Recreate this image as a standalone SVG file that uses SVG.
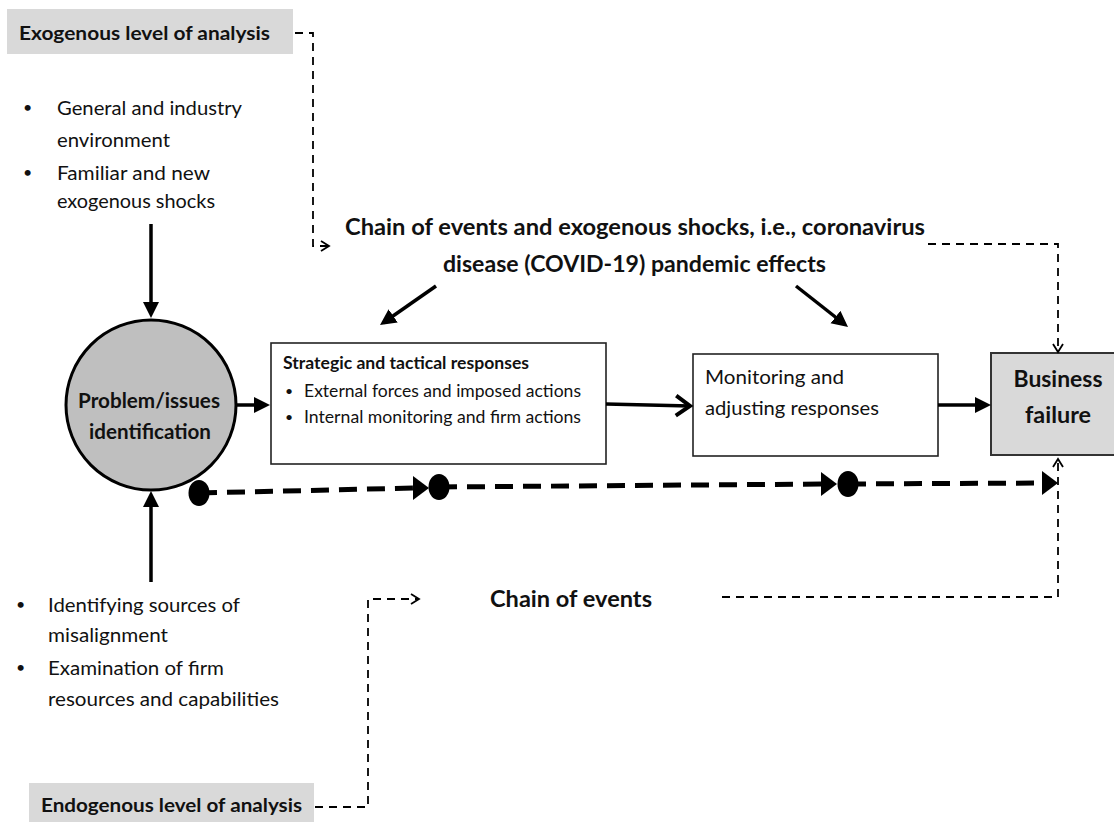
<svg xmlns="http://www.w3.org/2000/svg" width="1114" height="822" viewBox="0 0 1114 822">
<style>
text{font-family:Lato,"Open Sans","Liberation Sans",sans-serif;fill:#111;}
.b{font-weight:bold;}
.lbl{fill:#d9d9d9;stroke:none;}
.box{fill:#fff;stroke:#222;stroke-width:1.6;}
.thick{fill:none;stroke:#000;stroke-width:3.5;}
.thin{fill:none;stroke:#000;stroke-width:1.8;stroke-dasharray:8 6;}
.chain{fill:none;stroke:#000;stroke-width:5;stroke-dasharray:18 10;}
</style>
<defs>
<marker id="tri" markerUnits="userSpaceOnUse" markerWidth="18" markerHeight="18" refX="12" refY="8" orient="auto">
<path d="M0,0 L16,8 L0,16 z" fill="#000"/>
</marker>
<marker id="open" markerUnits="userSpaceOnUse" markerWidth="20" markerHeight="26" refX="16" refY="12" orient="auto">
<path d="M2,2 L16,12 L2,22" fill="none" stroke="#000" stroke-width="4"/>
</marker>
<marker id="chev" markerUnits="userSpaceOnUse" markerWidth="12" markerHeight="14" refX="9" refY="6" orient="auto">
<path d="M1,1 L9,6 L1,11" fill="none" stroke="#000" stroke-width="1.8"/>
</marker>
<g id="dot"><ellipse cx="0" cy="0" rx="10.5" ry="13" fill="#000"/></g>
<g id="arr"><path d="M-16,-12 L0,0 L-16,12 z" fill="#000"/></g>
</defs>
<rect width="1114" height="822" fill="#fff"/>

<g id="exogenous-label">
<rect class="lbl" x="7" y="9" width="286" height="45"/>
<text class="b" x="19" y="40" font-size="19.5" textLength="251" lengthAdjust="spacingAndGlyphs">Exogenous  level of analysis</text>
</g>

<g id="exogenous-bullets" font-size="19.5">
<text x="23" y="113" font-size="16">•</text>
<text x="57" y="115" textLength="185" lengthAdjust="spacingAndGlyphs">General and industry</text>
<text x="57" y="147" textLength="113" lengthAdjust="spacingAndGlyphs">environment</text>
<text x="23" y="178" font-size="16">•</text>
<text x="57" y="180" textLength="153" lengthAdjust="spacingAndGlyphs">Familiar and new</text>
<text x="57" y="208" textLength="158" lengthAdjust="spacingAndGlyphs">exogenous shocks</text>
</g>

<g id="chain-heading">
<text class="b" x="345" y="235" font-size="23" textLength="580" lengthAdjust="spacingAndGlyphs">Chain of events and exogenous shocks, i.e., coronavirus</text>
<text class="b" x="443" y="272" font-size="23" textLength="383" lengthAdjust="spacingAndGlyphs">disease (COVID-19) pandemic effects</text>
</g>

<g id="problem-identification">
<circle cx="151" cy="405" r="85" fill="#bfbfbf" stroke="#000" stroke-width="3"/>
<text class="b" x="149" y="408" font-size="21.5" text-anchor="middle" textLength="142" lengthAdjust="spacingAndGlyphs">Problem/issues</text>
<text class="b" x="150" y="439" font-size="21.5" text-anchor="middle" textLength="122" lengthAdjust="spacingAndGlyphs">identification</text>
</g>

<g id="strategic-responses">
<rect class="box" x="271" y="343" width="335" height="121"/>
<text class="b" x="283" y="369" font-size="16.5" textLength="246" lengthAdjust="spacingAndGlyphs">Strategic and tactical responses</text>
<text x="285" y="396" font-size="14">•</text>
<text x="304" y="397" font-size="17" textLength="277" lengthAdjust="spacingAndGlyphs">External forces and imposed actions</text>
<text x="285" y="422" font-size="14">•</text>
<text x="304" y="423" font-size="17" textLength="277" lengthAdjust="spacingAndGlyphs">Internal monitoring and firm actions</text>
</g>

<g id="monitoring-responses">
<rect class="box" x="693" y="354" width="245" height="102"/>
<text x="705" y="384" font-size="20" textLength="139" lengthAdjust="spacingAndGlyphs">Monitoring and</text>
<text x="705" y="415" font-size="20" textLength="174" lengthAdjust="spacingAndGlyphs">adjusting responses</text>
</g>

<g id="business-failure">
<rect x="991" y="353" width="124" height="102" fill="#d9d9d9" stroke="#333" stroke-width="2"/>
<text class="b" x="1058" y="387" font-size="23" text-anchor="middle" textLength="89" lengthAdjust="spacingAndGlyphs">Business</text>
<text class="b" x="1058" y="423" font-size="23" text-anchor="middle" textLength="66" lengthAdjust="spacingAndGlyphs">failure</text>
</g>

<g id="endogenous-bullets" font-size="19.5">
<text x="16" y="610" font-size="16">•</text>
<text x="48" y="612" textLength="192" lengthAdjust="spacingAndGlyphs">Identifying sources of</text>
<text x="48" y="642" textLength="120" lengthAdjust="spacingAndGlyphs">misalignment</text>
<text x="16" y="673" font-size="16">•</text>
<text x="48" y="675" textLength="176" lengthAdjust="spacingAndGlyphs">Examination of firm</text>
<text x="48" y="706" textLength="231" lengthAdjust="spacingAndGlyphs">resources and capabilities</text>
</g>

<g id="chain-of-events-label">
<text class="b" x="490" y="607" font-size="23" textLength="162" lengthAdjust="spacingAndGlyphs">Chain of events</text>
</g>

<g id="endogenous-label">
<rect class="lbl" x="29" y="783" width="285" height="40"/>
<text class="b" x="41" y="812" font-size="19.5" textLength="261" lengthAdjust="spacingAndGlyphs">Endogenous level of analysis</text>
</g>

<g id="connectors">
<line class="thick" x1="151" y1="224" x2="151" y2="314" marker-end="url(#tri)"/>
<line class="thick" x1="151" y1="582" x2="151" y2="495" marker-end="url(#tri)"/>
<line class="thick" x1="236" y1="405" x2="266" y2="405" marker-end="url(#tri)"/>
<line class="thick" x1="606" y1="404" x2="690" y2="406" stroke-width="4" marker-end="url(#open)"/>
<line class="thick" x1="938" y1="405" x2="987" y2="405" stroke-width="4" marker-end="url(#tri)"/>
<line class="thick" x1="436" y1="286" x2="383.3" y2="322.7" stroke-width="4" marker-end="url(#tri)"/>
<line class="thick" x1="796" y1="286" x2="844.9" y2="324.5" stroke-width="4" marker-end="url(#tri)"/>

<path class="thin" d="M295,33 H313 V246 H329" marker-end="url(#chev)"/>
<path class="thin" d="M928,244 H1058 V352" marker-end="url(#chev)"/>
<path class="thin" d="M722,597 H1058 V459" marker-end="url(#chev)"/>
<path class="thin" d="M315,807 H368 V599 H419" marker-end="url(#chev)"/>

<line class="chain" x1="199" y1="493" x2="415" y2="488"/>
<use href="#dot" x="199" y="493"/>
<use href="#arr" x="429" y="488"/>
<use href="#dot" x="439" y="487"/>
<line class="chain" x1="439" y1="487" x2="823" y2="484"/>
<use href="#arr" x="837" y="484"/>
<use href="#dot" x="848" y="484"/>
<line class="chain" x1="848" y1="484" x2="1044" y2="483"/>
<use href="#arr" x="1058" y="483"/>
</g>
</svg>
